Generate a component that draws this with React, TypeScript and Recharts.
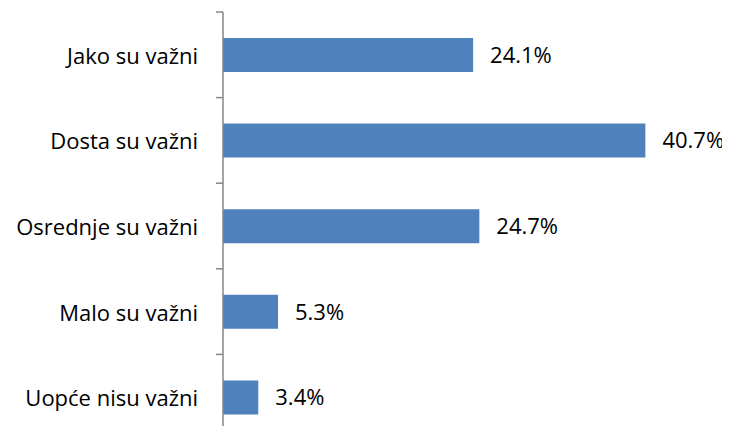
import React from "react";
import { BarChart, Bar, XAxis, YAxis, LabelList } from "recharts";

const categories = [
  "Jako su važni",
  "Dosta su važni",
  "Osrednje su važni",
  "Malo su važni",
  "Uopće nisu važni",
];
const shares = [24.1, 40.7, 24.7, 5.3, 3.4];

const data = categories.map((name, i) => ({ name, value: shares[i] }));

const FONT = "'Open Sans', sans-serif";

const CategoryTick = (props: any) => {
  const { x, y, payload } = props;
  const half = payload && payload.offset ? payload.offset : 42.8;
  return (
    <g>
      <line x1={x - 7} x2={x} y1={y - half} y2={y - half} stroke="#868686" strokeWidth={1.5} />
      <text
        x={x - 25}
        y={y}
        textAnchor="end"
        dominantBaseline="central"
        fontFamily={FONT}
        fontSize={22}
        fill="#000"
      >
        {payload.value}
      </text>
    </g>
  );
};

const App = () => {
  return (
    <div style={{ width: 730, height: 434, overflow: "hidden", margin: -8, background: "#fff" }}>
      <BarChart
        width={730}
        height={442}
        data={data}
        layout="vertical"
        margin={{ top: 12, right: 40, bottom: 2, left: 0 }}
      >
        <XAxis type="number" domain={[0, 45]} hide />
        <YAxis
          type="category"
          dataKey="name"
          width={223}
          tickLine={false}
          tickSize={0}
          tickMargin={0}
          axisLine={{ stroke: "#868686", strokeWidth: 1.5 }}
          tick={<CategoryTick />}
          interval={0}
        />
        <Bar dataKey="value" fill="#4F81BD" barSize={34} isAnimationActive={false}>
          <LabelList
            dataKey="value"
            position="right"
            offset={17}
            formatter={(v: any) => `${Number(v).toFixed(1)}%`}
            style={{ fontFamily: FONT, fontSize: 22, fill: "#000" }}
          />
        </Bar>
      </BarChart>
    </div>
  );
};

export default App;
